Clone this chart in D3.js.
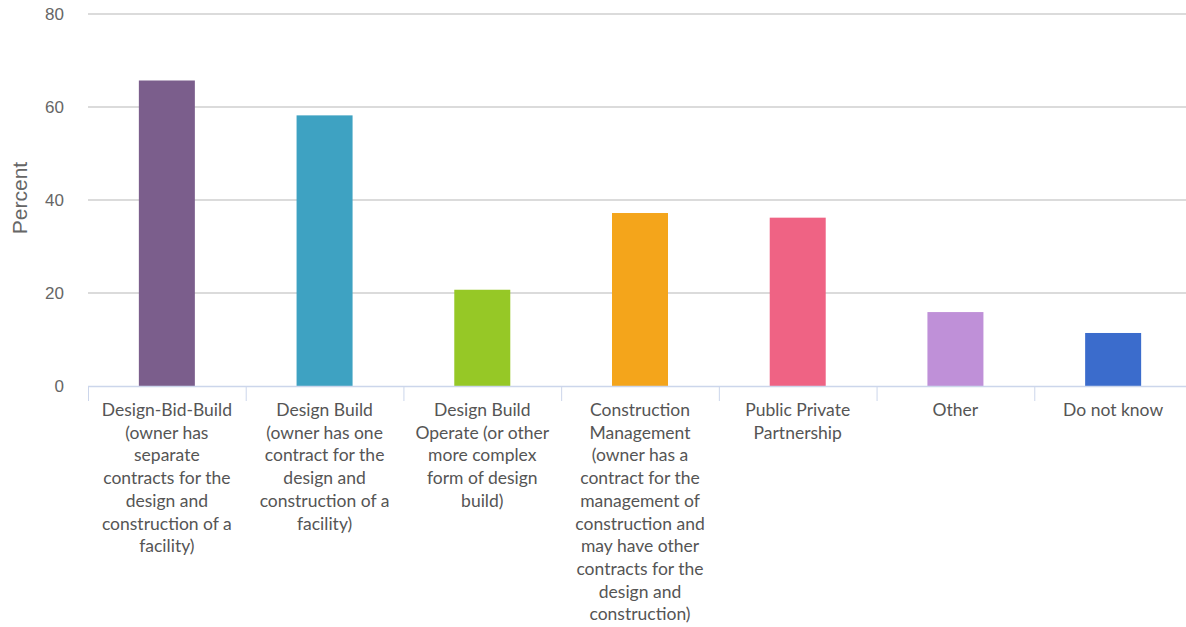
<!DOCTYPE html>
<html>
<head>
<meta charset="utf-8">
<script src="https://cdn.jsdelivr.net/npm/d3@7"></script>
<style>
  html, body { margin: 0; padding: 0; background: #fff; }
  svg { display: block; font-family: Lato, "Open Sans", sans-serif; }
</style>
</head>
<body>
<svg id="chart" width="1186" height="627"></svg>
<script>
// Procurement methods and share of respondents (percent)
const categories = [
  "Design-Bid-Build (owner has separate contracts for the design and construction of a facility)",
  "Design Build (owner has one contract for the design and construction of a facility)",
  "Design Build Operate (or other more complex form of design build)",
  "Construction Management (owner has a contract for the management of construction and may have other contracts for the design and construction)",
  "Public Private Partnership",
  "Other",
  "Do not know"
];
const categoryLines = [
  ["Design-Bid-Build", "(owner has", "separate", "contracts for the", "design and", "construction of a", "facility)"],
  ["Design Build", "(owner has one", "contract for the", "design and", "construction of a", "facility)"],
  ["Design Build", "Operate (or other", "more complex", "form of design", "build)"],
  ["Construction", "Management", "(owner has a", "contract for the", "management of", "construction and", "may have other", "contracts for the", "design and", "construction)"],
  ["Public Private", "Partnership"],
  ["Other"],
  ["Do not know"]
];
const values = [65.7, 58.2, 20.7, 37.2, 36.2, 15.9, 11.4];
const barColors = ["#7b5e8c", "#3ea2c2", "#96c826", "#f4a51b", "#ef6384", "#bf90d8", "#3b6ccc"];
const yTicks = [0, 20, 40, 60, 80];
const yTitle = "Percent";

const svg = d3.select("#chart");
const plotLeft = 88, plotRight = 1192, plotTop = 14, plotBottom = 386;

const x = d3.scaleBand().domain(categories).range([plotLeft, plotRight]).paddingInner(0).paddingOuter(0);
const y = d3.scaleLinear().domain([0, 80]).range([plotBottom, plotTop]);

// horizontal grid
svg.append("g")
  .selectAll("line")
  .data(yTicks.filter(t => t > 0))
  .join("line")
  .attr("x1", plotLeft).attr("x2", plotRight)
  .attr("y1", d => y(d)).attr("y2", d => y(d))
  .attr("stroke", "#cfcfcf").attr("stroke-width", 1.5);

// y tick labels
svg.append("g")
  .selectAll("text")
  .data(yTicks)
  .join("text")
  .attr("x", 64).attr("y", d => y(d))
  .attr("dy", "0.35em")
  .attr("text-anchor", "end")
  .attr("fill", "#666")
  .attr("font-family", "'Liberation Sans', Arial, sans-serif")
  .attr("font-size", 17)
  .text(d => d);

// y title
svg.append("text")
  .attr("transform", `translate(27,${(plotTop + plotBottom) / 2 - 2}) rotate(-90)`)
  .attr("text-anchor", "middle")
  .attr("fill", "#666")
  .attr("font-family", "'Liberation Sans', Arial, sans-serif")
  .attr("font-size", 21)
  .text(yTitle);

// bars
const barW = 56;
svg.append("g")
  .selectAll("rect")
  .data(values)
  .join("rect")
  .attr("x", (d, i) => x(categories[i]) + x.bandwidth() / 2 - barW / 2)
  .attr("width", barW)
  .attr("y", d => y(d))
  .attr("height", d => y(0) - y(d))
  .attr("fill", (d, i) => barColors[i]);

// x axis line and band ticks
svg.append("line")
  .attr("x1", plotLeft).attr("x2", plotRight)
  .attr("y1", plotBottom + 0.5).attr("y2", plotBottom + 0.5)
  .attr("stroke", "#ccd6eb").attr("stroke-width", 1.5);

svg.append("g")
  .selectAll("line")
  .data(categories)
  .join("line")
  .attr("x1", d => x(d) + 0.5).attr("x2", d => x(d) + 0.5)
  .attr("y1", plotBottom).attr("y2", plotBottom + 15)
  .attr("stroke", "#ccd6eb").attr("stroke-width", 1);

// category labels
const lab = svg.append("g")
  .selectAll("text")
  .data(categories)
  .join("text")
  .attr("text-anchor", "middle")
  .attr("fill", "#555")
  .attr("font-size", 17.5)
  .attr("y", 416);
lab.each(function (d, i) {
  const t = d3.select(this);
  const cx = x(d) + x.bandwidth() / 2;
  categoryLines[i].forEach((line, k) => {
    t.append("tspan").attr("x", cx).attr("dy", k === 0 ? 0 : 22.7).text(line);
  });
});
</script>
</body>
</html>
